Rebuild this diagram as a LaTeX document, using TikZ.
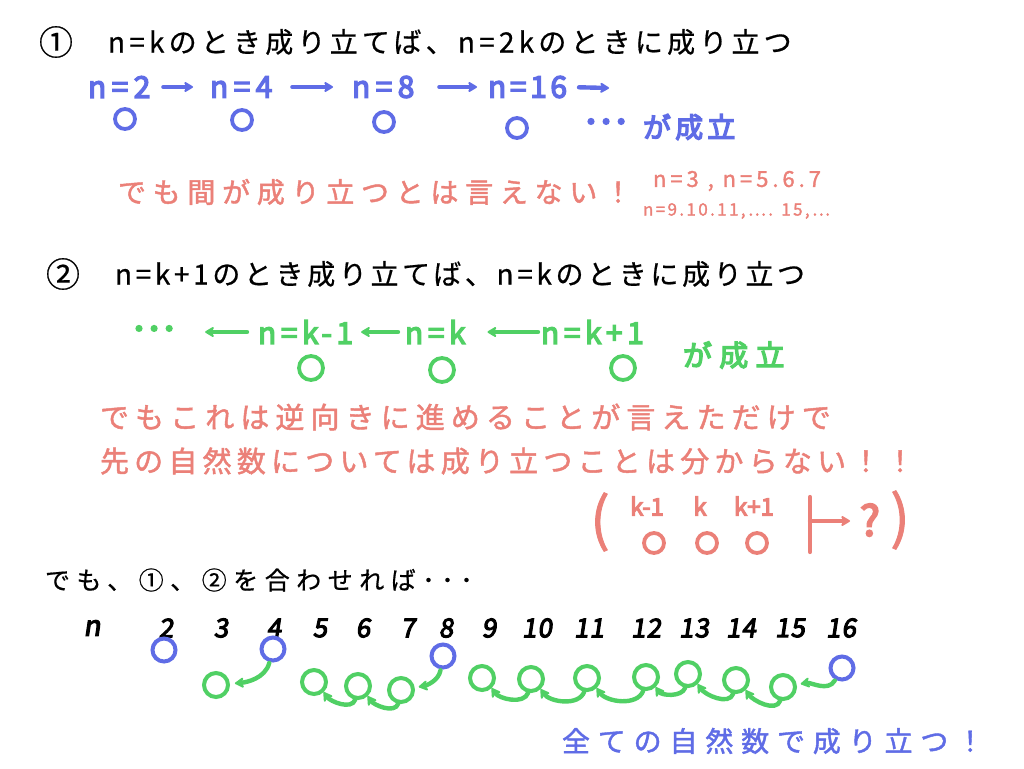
\documentclass[tikz,border=0pt]{standalone}
\usepackage{fontspec}
\usetikzlibrary{arrows.meta}
\newfontfamily\jpr[FakeBold=0.6]{Noto Sans CJK JP}
\newfontfamily\jpm[FakeBold=1.5]{Noto Sans CJK JP}
\newfontfamily\jpb[FakeBold=4.5]{Noto Sans CJK JP}
\newfontfamily\jpd[FakeBold=6]{Noto Sans CJK JP}
\newfontfamily\jpn[FakeBold=4,FakeSlant=0.15]{Noto Sans CJK JP}
\definecolor{hb}{RGB}{95,108,230}
\definecolor{hr}{RGB}{235,128,120}
\definecolor{hg}{RGB}{80,208,100}
\newcommand{\hfs}[2]{\fontsize{#1}{#1}\selectfont\addfontfeature{LetterSpace=#2}}
\begin{document}
\begin{tikzpicture}[x=1pt,y=1pt,
  every node/.style={inner sep=0pt,outer sep=0pt},
  hdr/.style={anchor=west,text=black,font=\jpr},
  ring/.style={circle,draw,line width=3.8pt,minimum size=#1},
  ring/.default=22pt,
  arr/.style={line width=4.4pt,line cap=round,-{Stealth[length=11pt,width=13pt,round]}},
  btxt/.style={anchor=west,text=hb,font=\jpb},
  gtxt/.style={anchor=west,text=hg,font=\jpb},
  rtxt/.style={anchor=west,text=hr,font=\jpm},
  dots/.style={anchor=west,font=\jpd},
  num/.style={text=black,font=\jpn},
]
\useasboundingbox (0,0) rectangle (1024,-768);
\fill[white] (0,0) rectangle (1024,-768);

% ---------- section 1
\node[text=black,font=\jpr] (c1) at (56,-42) {\hfs{34}{0}①};
\node[hdr] (h1) at (108,-42) {\hfs{28}{15}n=kのとき成り立てば、n=2kのときに成り立つ};

\node[btxt] (n2) at (88,-87) {\hfs{30}{18}n=2};
\node[btxt] (n4) at (210,-87) {\hfs{30}{18}n=4};
\node[btxt] (n8) at (352,-87) {\hfs{30}{18}n=8};
\node[btxt] (n16) at (488,-87) {\hfs{30}{12}n=16};
\coordinate (e16) at (609,-88);
\draw[arr,hb,shorten <=13pt,shorten >=17pt] (n2.east) -- (n4.west);
\draw[arr,hb,shorten <=20pt,shorten >=19pt] (n4.east) -- (n8.west);
\draw[arr,hb,shorten <=25pt,shorten >=11pt] (n8.east) -- (n16.west);
\draw[arr,hb,shorten <=12pt] (n16.east) -- (e16);

\node[ring=20pt,draw=hb] (o2) at (125,-119) {};
\node[ring=20pt,draw=hb] (o4) at (242,-120) {};
\node[ring=20pt,draw=hb] (o8) at (384,-122) {};
\node[ring=20pt,draw=hb] (o16) at (517,-128) {};
\node[dots,text=hb] (d1) at (578,-125) {\hfs{26}{-42}・・・};
\node[btxt] (s1) at (643,-127) {\hfs{28}{15}が成立};

\node[rtxt] (r1) at (118,-192) {\hfs{28}{24}でも間が成り立つとは言えない！};
\node[rtxt] (r1a) at (653,-181) {\hfs{22}{18}n=3 , n=5.6.7};
\node[rtxt] (r1b) at (643,-211) {\hfs{17}{14}n=9.10.11,…. 15,…};

% ---------- section 2
\node[text=black,font=\jpr] (c2) at (63,-274) {\hfs{34}{0}②};
\node[hdr] (h2) at (115,-274) {\hfs{28}{13}n=k+1のとき成り立てば、n=kのときに成り立つ};

\node[dots,text=hg] (gd) at (126,-332) {\hfs{26}{-42}・・・};
\node[gtxt] (gk1) at (258,-332) {\hfs{30}{15}n=k-1};
\node[gtxt] (gk) at (405,-332) {\hfs{30}{15}n=k};
\node[gtxt] (gkp) at (541,-332) {\hfs{30}{15}n=k+1};
\draw[arr,hg,shorten <=11pt,shorten >=23pt] (gk1.west) -- (gd.east);
\draw[arr,hg,shorten <=7pt,shorten >=8pt] (gk.west) -- (gk1.east);
\draw[arr,hg,shorten <=3pt,shorten >=22pt] (gkp.west) -- (gk.east);
\node[ring=24pt,draw=hg] (q1) at (311,-368) {};
\node[ring=24pt,draw=hg] (q2) at (442,-370) {};
\node[ring=24pt,draw=hg] (q3) at (623,-368) {};
\node[gtxt] (s2) at (683,-355) {\hfs{29}{25}が成立};

\node[rtxt] (r2) at (100,-417) {\hfs{29}{21}でもこれは逆向きに進めることが言えただけで};
\node[rtxt] (r3) at (100,-461) {\hfs{29}{18}先の自然数については成り立つことは分からない！！};

\node[text=hr,font=\jpm] (lp) at (600,-522) {\hfs{58}{0}(};
\node[text=hr,font=\jpb] (pk1) at (647,-506) {\hfs{24}{0}k-1};
\node[text=hr,font=\jpb] (pk) at (700,-506) {\hfs{24}{0}k};
\node[text=hr,font=\jpb] (pkp) at (754,-506) {\hfs{24}{0}k+1};
\node[ring=20pt,draw=hr] (pc1) at (654,-543) {};
\node[ring=20pt,draw=hr] (pc2) at (707,-543) {};
\node[ring=20pt,draw=hr] (pc3) at (757,-543) {};
\coordinate (bt) at (810,-497);
\coordinate (bb) at (810,-552);
\coordinate (bm) at (810,-521);
\coordinate (be) at (850,-521);
\draw[hr,line width=4.2pt,line cap=round] (bt) -- (bb);
\draw[arr,hr] (bm) -- (be);
\node[text=hr,font=\jpb] (qm) at (870,-520) {\hfs{42}{0}?};
\node[text=hr,font=\jpm] (rp) at (900,-520) {\hfs{58}{0})};

% ---------- section 3
\node[hdr] (h3) at (45,-580) {\hfs{25}{26}でも、①、②を合わせれば･･･};
\node[num] (mn) at (92,-628) {\hfs{28}{0}n};
\foreach \v/\x in {2/166,3/221,4/274,5/320,6/363,7/408,8/446,9/489,10/537,11/589,12/646,13/694,14/741,15/790,16/841}
  \node[num] (m\v) at (\x,-628) {\hfs{26}{4}\v};

\node[ring=23pt,draw=hb,line width=4pt] (b2) at (164,-650) {};
\node[ring=23pt,draw=hb,line width=4pt] (b4) at (273,-649) {};
\node[ring=23pt,draw=hb,line width=4pt] (b8) at (443,-656) {};
\node[ring=23pt,draw=hb,line width=4pt] (b16) at (842,-668) {};

\foreach \v/\x/\y in {3/216/685,5/314/682,6/358/686,7/401/690,9/482/678,10/531/679,11/587/678,12/646/677,13/688/674,14/736/680,15/783/687}
  \node[ring=24pt,draw=hg,line width=4pt] (g\v) at (\x,-\y) {};

\draw[arr,hg,shorten <=3pt,shorten >=7pt] (b4) to[out=-105,in=5] (g3);
\draw[arr,hg,shorten <=3pt,shorten >=6pt] (b8) to[out=-100,in=10] (g7);
\draw[arr,hg,shorten <=3pt,shorten >=6pt] (b16) to[out=-120,in=10] (g15);
\foreach \a/\b in {7/6,6/5,15/14,14/13,13/12,12/11,11/10,10/9}
  \draw[arr,hg,shorten <=2pt,shorten >=2pt] (g\a.-100) to[out=-110,in=-55] (g\b.-45);

\node[rtxt,text=hb] (fin) at (562,-741) {\hfs{28}{28}全ての自然数で成り立つ！};
\end{tikzpicture}
\end{document}
